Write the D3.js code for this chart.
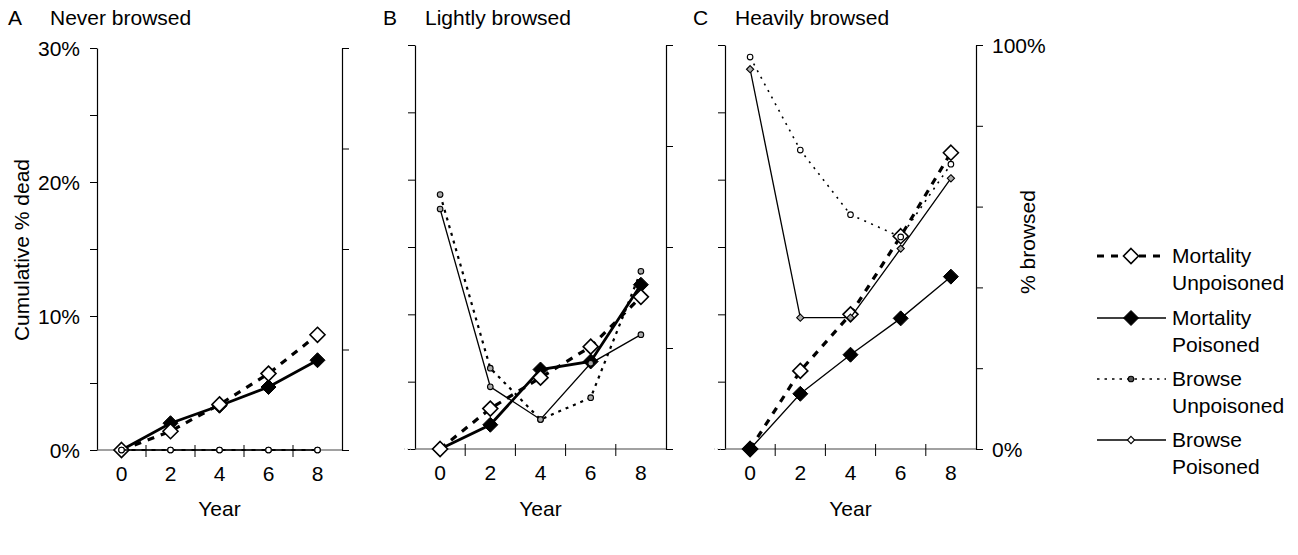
<!DOCTYPE html>
<html>
<head>
<meta charset="utf-8">
<script src="https://cdn.jsdelivr.net/npm/d3@7"></script>
<style>
  body { margin: 0; background: #fff; }
  svg { display: block; }
  text { font-family: "Liberation Sans", Arial, sans-serif; fill: #000; }
</style>
</head>
<body>
<svg id="chart" width="1298" height="555"></svg>
<script>
// ---- data -------------------------------------------------------------
const years = ["0", "2", "4", "6", "8"];
const panelLetters = ["A", "B", "C"];
const panelTitles = ["Never browsed", "Lightly browsed", "Heavily browsed"];

// cumulative % dead (left axis)
const mortUnpoisonedA = [0, 1.4, 3.4, 5.7, 8.6];
const mortPoisonedA   = [0, 2.0, 3.3, 4.7, 6.7];
const mortUnpoisonedB = [0, 3.0, 5.3, 7.6, 11.3];
const mortPoisonedB   = [0, 1.8, 5.9, 6.5, 12.2];
const mortUnpoisonedC = [0, 5.8, 10.0, 15.8, 22.0];
const mortPoisonedC   = [0, 4.1, 7.0, 9.7, 12.8];

// % browsed (right axis)
const browseUnpoisonedA = [0, 0, 0, 0, 0];
const browsePoisonedA   = [0, 0, 0, 0, 0];
const browseUnpoisonedB = [63, 20, 7.3, 12.7, 44];
const browsePoisonedB   = [59.4, 15.4, 7.3, 21.2, 28.3];
const browseUnpoisonedC = [97, 74, 58, 52.5, 70.5];
const browsePoisonedC   = [94, 32.5, 32.5, 49.6, 67];

const deadTicks = [0, 5, 10, 15, 20, 25, 30];
const browseTicksAB = [0, 25, 50, 75, 100];
const browseTicksC = [0, 20, 40, 60, 80, 100];

const legendLabels = [
  ["Mortality", "Unpoisoned"],
  ["Mortality", "Poisoned"],
  ["Browse", "Unpoisoned"],
  ["Browse", "Poisoned"]
];

// ---- layout -----------------------------------------------------------
const frames = [
  { left: 97,  right: 342, top: 48, bottom: 450 },
  { left: 415, right: 666, top: 45, bottom: 449 },
  { left: 725, right: 976, top: 45, bottom: 449 }
];

// per-panel drawing tweaks
const panelLook = [
  { mortPWidth: 2.8, browUWidth: 2.0, browUDash: "4,6", circleFill: "#fff", poisMarker: "circle", mortOrder: ["mortP", "mortU"] },
  { mortPWidth: 2.8, browUWidth: 2.2, browUDash: "3,5", circleFill: "#aaa", poisMarker: "circle", mortOrder: ["mortP", "mortU"] },
  { mortPWidth: 1.3, browUWidth: 1.6, browUDash: "2,5.5", circleFill: "#fff", poisMarker: "diamond", mortOrder: ["mortU", "mortP"] }
];

const panels = [
  { mortU: mortUnpoisonedA, mortP: mortPoisonedA, browU: browseUnpoisonedA, browP: browsePoisonedA, browseTicks: browseTicksAB },
  { mortU: mortUnpoisonedB, mortP: mortPoisonedB, browU: browseUnpoisonedB, browP: browsePoisonedB, browseTicks: browseTicksAB },
  { mortU: mortUnpoisonedC, mortP: mortPoisonedC, browU: browseUnpoisonedC, browP: browsePoisonedC, browseTicks: browseTicksC }
];

const svg = d3.select("#chart");
const FONT = 21;

const diamond = r => `M0,${-r}L${r},0L0,${r}L${-r},0Z`;

const styles = {
  mortU: { stroke: 3.2, dash: "7,7", marker: "diamond", r: 7.5, fill: "#fff", mstroke: 1.6 },
  mortP: { stroke: 2.8, dash: null, marker: "diamond", r: 7.5, fill: "#000", mstroke: 1 },
  browU: { stroke: 1.6, dash: "2.5,5", marker: "circle", r: 2.8, fill: "#555", mstroke: 1.1 },
  browP: { stroke: 1.3, dash: null, marker: "diamond", r: 3.6, fill: "#fff", mstroke: 1.1 }
};

function drawMarker(g, shape, r, fill, mstroke, x, y) {
  if (shape === "circle") {
    g.append("circle").attr("cx", x).attr("cy", y).attr("r", r)
      .attr("fill", fill).attr("stroke", "#000").attr("stroke-width", mstroke);
  } else {
    g.append("path").attr("d", diamond(r)).attr("transform", `translate(${x},${y})`)
      .attr("fill", fill).attr("stroke", "#000").attr("stroke-width", mstroke);
  }
}

panels.forEach((p, i) => {
  const f = frames[i];
  const look = panelLook[i];
  const g = svg.append("g");

  const x = d3.scaleBand().domain(years).range([f.left, f.right]).padding(0);
  const yDead = d3.scaleLinear().domain([0, 30]).range([f.bottom, f.top]);
  const yBrowse = d3.scaleLinear().domain([0, 100]).range([f.bottom, f.top]);
  const cx = d => x(d) + x.bandwidth() / 2;

  // left axis
  const left = g.append("g").attr("transform", `translate(${f.left},0)`)
    .call(d3.axisLeft(yDead).tickValues(deadTicks).tickSizeInner(7).tickSizeOuter(0).tickPadding(10)
      .tickFormat(d => (i === 0 && d % 10 === 0) ? d + "%" : ""));
  left.selectAll("text").attr("font-size", FONT).attr("dy", "0.35em");

  // right axis
  const right = g.append("g").attr("transform", `translate(${f.right},0)`)
    .call(d3.axisRight(yBrowse).tickValues(p.browseTicks).tickSizeInner(7).tickSizeOuter(0).tickPadding(9)
      .tickFormat(d => (i === 2 && (d === 0 || d === 100)) ? d + "%" : ""));
  right.selectAll("text").attr("font-size", FONT).attr("dy", "0.35em");

  [left, right].forEach(a => {
    a.select(".domain").attr("stroke", "#000").attr("stroke-width", 1.2);
    a.selectAll(".tick line").attr("stroke", "#000").attr("stroke-width", 1);
  });

  // bottom axis: labels at category centres, ticks on category boundaries
  const bottom = g.append("g").attr("transform", `translate(0,${f.bottom})`)
    .call(d3.axisBottom(x).tickSize(0).tickPadding(16));
  bottom.select(".domain").remove();
  bottom.selectAll("text").attr("font-size", FONT);
  g.append("line").attr("x1", f.left).attr("x2", f.right).attr("y1", f.bottom).attr("y2", f.bottom)
    .attr("stroke", "#444").attr("stroke-width", 1.2);
  years.slice(1).forEach(yr => {
    g.append("line").attr("x1", x(yr)).attr("x2", x(yr)).attr("y1", f.bottom - 5).attr("y2", f.bottom + 7)
      .attr("stroke", "#000").attr("stroke-width", 1);
  });
  if (i > 0) {
    g.append("line").attr("x1", f.left - 11).attr("x2", f.left - 2).attr("y1", f.bottom).attr("y2", f.bottom)
      .attr("stroke", "#bbb").attr("stroke-width", 1).attr("stroke-dasharray", "1,2");
  }

  g.append("text").attr("x", (f.left + f.right) / 2).attr("y", 516).attr("text-anchor", "middle")
    .attr("font-size", FONT).text("Year");

  // panel heading
  const hx = [8, 383, 693][i];
  g.append("text").attr("x", hx).attr("y", 25).attr("font-size", FONT).text(panelLetters[i]);
  g.append("text").attr("x", hx + 42).attr("y", 25).attr("font-size", FONT).text(panelTitles[i]);

  // series: mortality first, browse drawn over it
  const values = { mortU: p.mortU, mortP: p.mortP, browP: p.browP, browU: p.browU };
  const scales = { mortU: yDead, mortP: yDead, browP: yBrowse, browU: yBrowse };
  const order = [...look.mortOrder, "browP", "browU"];
  order.forEach(key => {
    const vals = values[key], yS = scales[key];
    const st = styles[key];
    let sw = st.stroke, dash = st.dash, shape = st.marker, fill = st.fill;
    if (key === "mortP") sw = look.mortPWidth;
    if (key === "browU") { sw = look.browUWidth; dash = look.browUDash; fill = look.circleFill; }
    if (key === "browP") { shape = look.poisMarker; fill = "#aaa"; }
    const r = (key === "browP" && shape === "circle") ? 2.8 : st.r;
    const line = d3.line().x((d, j) => cx(years[j])).y(d => yS(d));
    g.append("path").attr("d", line(vals)).attr("fill", "none").attr("stroke", "#000")
      .attr("stroke-width", sw).attr("stroke-dasharray", dash);
    const mg = g.append("g");
    vals.forEach((v, j) => drawMarker(mg, shape, r, fill, st.mstroke, cx(years[j]), yS(v)));
  });
});

// axis titles
svg.append("text").attr("transform", "translate(29,250) rotate(-90)").attr("text-anchor", "middle")
  .attr("font-size", FONT).text("Cumulative % dead");
svg.append("text").attr("transform", "translate(1035,242) rotate(-90)").attr("text-anchor", "middle")
  .attr("font-size", FONT).text("% browsed");

// legend
const legendRows = [256, 318, 379, 440];
const legendKeys = ["mortU", "mortP", "browU", "browP"];
legendKeys.forEach((key, k) => {
  const st = styles[key];
  const y = legendRows[k];
  const lg = svg.append("g");
  lg.append("line").attr("x1", 1097).attr("x2", 1166).attr("y1", y).attr("y2", y)
    .attr("stroke", "#000").attr("stroke-width", key === "mortP" ? 1.3 : st.stroke)
    .attr("stroke-dasharray", st.dash);
  drawMarker(lg, st.marker, st.r, st.fill, st.mstroke, 1131, y);
  legendLabels[k].forEach((t, li) => {
    lg.append("text").attr("x", 1172).attr("y", y + 7 + li * 27).attr("font-size", FONT).text(t);
  });
});
</script>
</body>
</html>
